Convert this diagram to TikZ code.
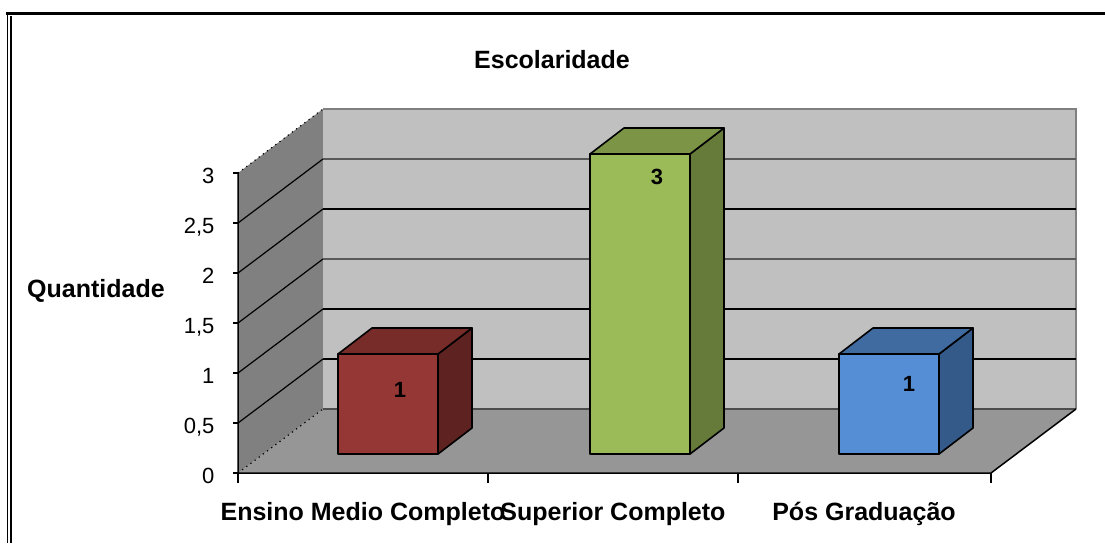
\documentclass[tikz,border=0pt]{standalone}
\usepackage{fontspec}
\setmainfont{Liberation Sans}
\usepackage{tikz,ifthen}
\usepackage{color}

\definecolor{wallback}{RGB}{192,192,192}
\definecolor{wallside}{RGB}{128,128,128}
\definecolor{floorgray}{RGB}{150,150,150}
\definecolor{redfront}{RGB}{149,55,53}
\definecolor{redtop}{RGB}{119,44,42}
\definecolor{redside}{RGB}{94,35,33}
\definecolor{greenfront}{RGB}{155,187,89}
\definecolor{greentop}{RGB}{123,148,70}
\definecolor{greenside}{RGB}{102,122,58}
\definecolor{bluefront}{RGB}{85,142,213}
\definecolor{bluetop}{RGB}{64,107,160}
\definecolor{blueside}{RGB}{52,90,138}

\tikzset{
  catlab/.style={anchor=base,inner sep=0pt,font=\fontsize{12.5}{15}\selectfont\bfseries},
  ylab/.style={anchor=base east,inner sep=0pt,font=\fontsize{11}{13}\selectfont},
  vallab/.style={anchor=base,inner sep=0pt,font=\fontsize{11}{13}\selectfont\bfseries},
  barline/.style={draw=black,line width=0.8pt,line join=round}
}

\begin{document}
\begin{tikzpicture}[x=0.5pt,y=-0.5pt,line width=0.6pt]
\useasboundingbox (0,0) rectangle (1105,543);
% frame
\draw[line width=1.5pt] (6,13.5) -- (1105,13.5);
\draw[line width=0.8pt] (7.5,12) -- (7.5,543);
\draw[line width=0.8pt] (11,16) -- (11,543);
% walls and floor
\fill[floorgray] (238,473) -- (991,473) -- (1076,409) -- (323,409) -- cycle;
\fill[wallside] (238,473) -- (238,173) -- (323,109) -- (323,409) -- cycle;
\fill[wallback] (323,109) rectangle (1076,409);
\draw[wallside] (323,109) -- (1076,109) -- (1076,409);
\draw[gray!60!black] (323,409) -- (1076,409);
\draw[dotted] (238,173) -- (323,109);
\draw[dotted] (238,473) -- (323,409);
\foreach \v in {1,...,5}
    {\draw (238,{473-50*\v}) -- (323,{409-50*\v});
     \ifthenelse{\v=3 \OR \v=5}
     {\draw[gray!70!black] (323,{409-50*\v}) -- (1076,{409-50*\v});}
     {\draw (323,{409-50*\v}) -- (1076,{409-50*\v});}}
% bars
\foreach \bx/\bh/\bc/\lx/\ly in {338/1/red/400/397, 590/3/green/657/184, 839/1/blue/909/391}
    {\filldraw[barline,fill=\bc side] ({\bx+100},454) -- ({\bx+134},428) -- ({\bx+134},{428-100*\bh}) -- ({\bx+100},{454-100*\bh}) -- cycle;
     \filldraw[barline,fill=\bc top] (\bx,{454-100*\bh}) -- ({\bx+34},{428-100*\bh}) -- ({\bx+134},{428-100*\bh}) -- ({\bx+100},{454-100*\bh}) -- cycle;
     \filldraw[barline,fill=\bc front] (\bx,454) rectangle ({\bx+100},{454-100*\bh});
     \node[vallab] (val\bc) at (\lx,\ly) {\bh};}
% axes
\draw[line width=0.75pt] (238,173) -- (238,473) -- (991,473) -- (1076,409);
\foreach \x in {238,488,738,991}
    \draw[line width=0.75pt] (\x,473) -- (\x,483);
\foreach \v/\t in {0/0,1/{0,5},2/1,3/{1,5},4/2,5/{2,5},6/3}
    {\draw[line width=0.75pt] (233,{473-50*\v}) -- (238,{473-50*\v});
     \node[ylab] (tick\v) at (215,{483-50*\v}) {\t};}
% texts
\node[catlab] (title) at (552,68) {Escolaridade};
\node[catlab] (ytitle) at (96,297) {Quantidade};
\node[catlab] (cat1) at (363,520) {Ensino Medio Completo};
\node[catlab] (cat2) at (613,520) {Superior Completo};
\node[catlab] (cat3) at (864,520) {Pós Graduação};
\end{tikzpicture}
\end{document}
